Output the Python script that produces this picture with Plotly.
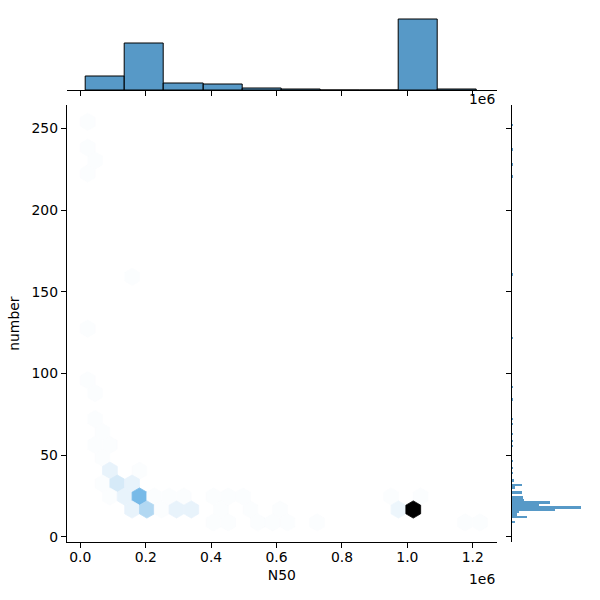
import colorsys
import numpy as np
import plotly.graph_objects as go

# ---------------- data ----------------
# hexbin cells: centre N50, centre number, count
hex_x = [22590, 22590, 45210, 22590, 158330, 22590, 22590, 45210, 45210, 67830,
         45210, 90460, 67830, 90460, 180950, 67830, 113080, 158330, 90460, 135700,
         180950, 226190, 271440, 316690, 407180, 452420, 497670, 158330, 203570, 248820,
         294060, 339310, 429800, 520290, 610790, 407180, 452420, 542920, 588160, 633410,
         723900, 1176360, 1221610, 950130, 1040620, 972750, 1018000]
hex_y = [254.0, 238.2, 230.3, 222.4, 159.1, 127.4, 95.8, 87.9, 72.0, 64.1,
         56.2, 56.2, 48.3, 40.4, 40.4, 32.5, 32.5, 32.5, 24.6, 24.6,
         24.6, 24.6, 24.6, 24.6, 24.6, 24.6, 24.6, 16.65, 16.65, 16.65,
         16.65, 16.65, 16.65, 16.65, 16.65, 8.74, 8.74, 8.74, 8.74, 8.74,
         8.74, 8.74, 8.74, 24.6, 24.6, 16.65, 16.65]
hex_count = [1, 1, 1, 1, 1, 1, 1, 1, 1, 1,
             1, 1, 1, 5, 1, 1, 9, 5, 1, 5,
             30, 1, 1, 1, 1, 1, 1, 5, 17, 1,
             5, 5, 1, 1, 1, 1, 1, 1, 1, 1,
             1, 1, 1, 1, 1, 4, 96]
hex_sx = 45246      # hexagon width (N50 units)
hex_sy = 15.824     # hexagon row spacing (number units)

# marginal histogram of N50 (top)
n50_edges = [17400, 136850, 256300, 375750, 495200, 614650, 734100, 853550,
             973000, 1092450, 1211900]
n50_counts = [20, 67, 10, 8, 2, 1, 0, 0, 101, 1]

# marginal histogram of number (right)
num_centers = [9.0, 12.0, 13.5, 15.0, 16.5, 18.0, 19.5, 21.0, 22.5, 24.0, 27.0,
               30.0, 31.5, 34.5, 39.0, 42.0, 46.5, 55.5, 58.5, 63.0, 69.0, 72.0,
               84.0, 91.5, 121.5, 160.5, 220.5, 228.0, 237.0, 252.0]
num_counts = [3, 16, 5, 7, 45, 72, 28, 39, 12, 11, 10,
              3, 10, 2, 1, 1, 1, 1, 1, 1, 1, 1,
              1, 1, 1, 1, 1, 1, 1, 1]
num_binw = 1.5

x_ticks = [0, 200000, 400000, 600000, 800000, 1000000, 1200000]
x_ticktext = ["0.0", "0.2", "0.4", "0.6", "0.8", "1.0", "1.2"]
y_ticks = [0, 50, 100, 150, 200, 250]

# ---------------- styling ----------------
FONT = "DejaVu Sans"
FS = 13.9
BASE = (31 / 255, 119 / 255, 180 / 255)
h, l, s = colorsys.rgb_to_hls(*BASE)
stops = np.linspace(0, 1, 12)
stop_rgb = []
for lv in np.linspace(1, 0, 12):
    rgb = colorsys.hls_to_rgb(h, lv, s)
    stop_rgb.append([min(max(c, 0.0), 1.0) for c in rgb])
stop_rgb = np.array(stop_rgb)


def cmap(f):
    r = np.interp(f, stops, stop_rgb[:, 0])
    g = np.interp(f, stops, stop_rgb[:, 1])
    b = np.interp(f, stops, stop_rgb[:, 2])
    return f"rgb({r*255:.1f},{g*255:.1f},{b*255:.1f})"


vmax = max(hex_count)

W = 600.0
main_l, main_r, main_t, main_b = 66.7, 497.0, 105.0, 542.3
top_t, top_b = 2.5, 90.0
right_l, right_r = 511.7, 597.7

fig = go.Figure()

unit = np.array([[.5, -.5], [.5, .5], [0, 1], [-.5, .5], [-.5, -.5], [0, -1], [.5, -.5]])
for cx, cy, c in zip(hex_x, hex_y, hex_count):
    col = cmap(c / vmax)
    xs = cx + unit[:, 0] * hex_sx
    ys = cy + unit[:, 1] * hex_sy / 3
    fig.add_trace(go.Scatter(x=xs, y=ys, mode="lines", fill="toself",
                             fillcolor=col, line=dict(color=col, width=0.8),
                             hoverinfo="skip", showlegend=False,
                             xaxis="x", yaxis="y"))

bar_fill = "rgba(31,119,180,0.75)"
centers = [(a + b) / 2 for a, b in zip(n50_edges[:-1], n50_edges[1:])]
widths = [b - a for a, b in zip(n50_edges[:-1], n50_edges[1:])]
fig.add_trace(go.Bar(x=centers, y=n50_counts, width=widths, marker=dict(
    color=bar_fill, line=dict(color="black", width=1)),
    xaxis="x2", yaxis="y2", showlegend=False, hoverinfo="skip"))

fig.add_trace(go.Bar(y=num_centers, x=num_counts, width=[num_binw] * len(num_centers),
                     orientation="h", marker=dict(color=bar_fill,
                     line=dict(color="rgba(0,0,0,0)", width=0)),
                     xaxis="x3", yaxis="y3", showlegend=False, hoverinfo="skip"))

xr = [-41600, 1274000]
yr = [-3.43, 264.3]
axis_common = dict(showline=True, linecolor="black", linewidth=1.1, ticks="outside",
                   ticklen=4.9, tickwidth=1.1, tickcolor="black", showgrid=False,
                   zeroline=False, automargin=False,
                   tickfont=dict(family=FONT, size=FS, color="black"))

fig.update_layout(
    width=600, height=600, margin=dict(l=0, r=0, t=0, b=0),
    paper_bgcolor="white", plot_bgcolor="white",
    font=dict(family=FONT, size=FS, color="black"),
    xaxis=dict(domain=[main_l / W, main_r / W], range=xr, anchor="y",
               tickvals=x_ticks, ticktext=x_ticktext, ticklabelstandoff=-3,
               title=dict(text="N50", font=dict(family=FONT, size=FS), standoff=6),
               **axis_common),
    yaxis=dict(domain=[1 - main_b / W, 1 - main_t / W], range=yr, anchor="x",
               tickvals=y_ticks,
               title=dict(text="number", font=dict(family=FONT, size=FS), standoff=8),
               **axis_common),
    xaxis2=dict(domain=[main_l / W, main_r / W], range=xr, anchor="y2", matches="x",
                tickvals=x_ticks, showticklabels=False, **axis_common),
    yaxis2=dict(domain=[1 - top_b / W, 1 - top_t / W], range=[0, max(n50_counts) * 1.2376],
                anchor="x2", visible=False),
    xaxis3=dict(domain=[right_l / W, right_r / W], range=[0, max(num_counts) * 1.2376],
                anchor="y3", visible=False),
    yaxis3=dict(domain=[1 - main_b / W, 1 - main_t / W], range=yr, anchor="x3",
                matches="y", tickvals=y_ticks, showticklabels=False, **axis_common),
    bargap=0,
    annotations=[
        dict(text="1e6", x=main_r / W, y=1 - 569 / W, xref="paper", yref="paper",
             xanchor="right", yanchor="top", showarrow=False,
             font=dict(family=FONT, size=FS, color="black")),
        dict(text="1e6", x=main_r / W, y=1 - 89 / W, xref="paper", yref="paper",
             xanchor="right", yanchor="top", showarrow=False,
             font=dict(family=FONT, size=FS, color="black")),
    ],
)

fig.write_html("out.html", config={"displayModeBar": False},
               post_script="document.body.style.margin='0px';document.body.style.padding='0px';")
